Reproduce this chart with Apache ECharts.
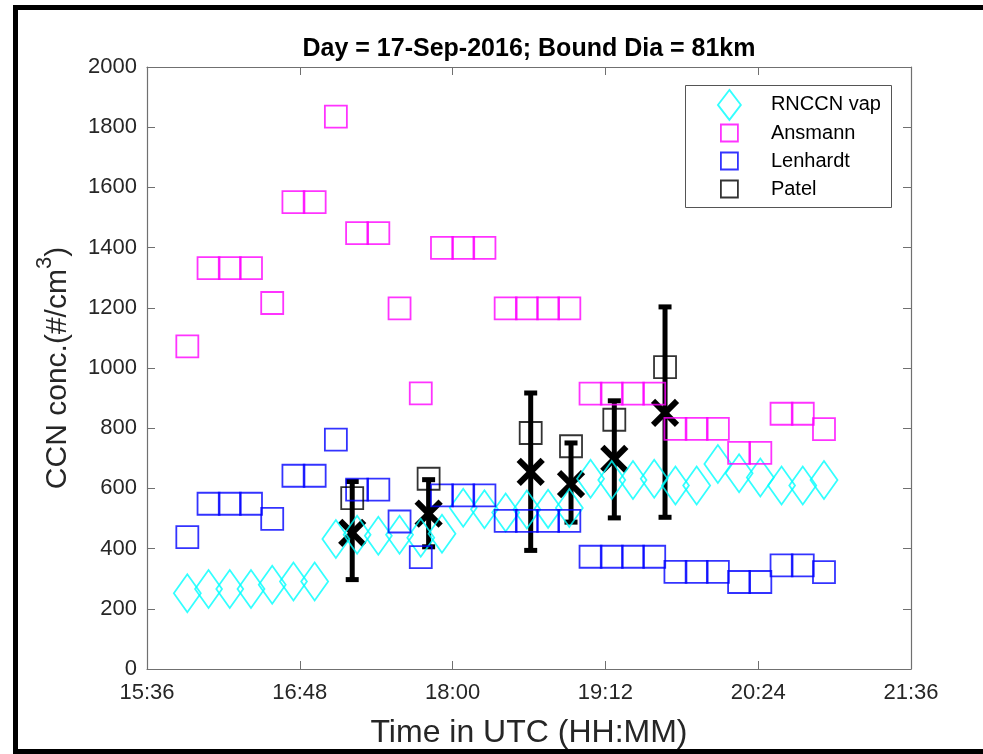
<!DOCTYPE html>
<html lang="en">
<head>
<meta charset="UTF-8">
<title>CCN conc. 17-Sep-2016</title>
<script src="https://cdn.jsdelivr.net/npm/echarts@6/dist/echarts.min.js"></script>
<style>
    html, body { margin: 0; padding: 0; background: #fff; }
    #main { width: 983px; height: 754px; }
</style>
</head>
<body>
<div id="main"></div>
<script>
    var FONT = '"Liberation Sans", Arial, Helvetica, sans-serif';

    // time in minutes after 00:00 UTC
    var times = [955, 965, 975, 985, 995, 1005, 1015, 1025, 1035, 1045, 1055,
        1065, 1075, 1085, 1095, 1105, 1115, 1125, 1135, 1145, 1155,
        1165, 1175, 1185, 1195, 1205, 1215, 1225, 1235, 1245, 1255];
    var rnccn = [252, 266, 266, 266, 280, 291, 291, 432, 446, 443, 446,
        436, 449, 536, 531, 520, 530, 532, 535, 632, 628,
        628, 632, 610, 610, 681, 650, 636, 610, 610, 628];
    var ansmann = [1072, 1332, 1332, 1332, 1216, 1551, 1551, 1835, 1448, 1448, 1198,
        916, 1399, 1399, 1399, 1198, 1198, 1198, 1198, 915, 915,
        915, 915, 798, 798, 798, 718, 718, 848, 848, 797];
    var lenhardt = [438, 549, 549, 549, 499, 642, 642, 762, 596, 596, 490,
        372, 577, 577, 577, 492, 492, 492, 492, 373, 373,
        373, 373, 323, 323, 323, 289, 289, 344, 344, 322];

    // Patel points + mean / error range
    var patelTimes = [1032.7, 1068.7, 1116.8, 1135.8, 1156.2, 1180.1];
    var patel = [568, 632, 784, 740, 828, 1003];
    var errMean = [452, 516, 655, 614, 698, 851];
    var errLow = [297, 406, 394, 488, 502, 504];
    var errHigh = [623, 629, 917, 751, 891, 1203];

    var xTickMin = 936, xTickMax = 1296, xTickStep = 72;   // 15:36 .. 21:36

    function hhmm(v) {
        var h = Math.floor(v / 60), m = Math.round(v % 60);
        return h + ':' + (m < 10 ? '0' : '') + m;
    }
    function pairs(xs, ys) {
        return xs.map(function (x, i) { return [x, ys[i]]; });
    }

    var axisCol = '#707070';
    var txtCol = '#262626';

    function hollow(col, w) {
        return { color: 'transparent', borderColor: col, borderWidth: w };
    }

    var myChart = echarts.init(document.getElementById('main'));

    var errData = patelTimes.map(function (t, i) {
        return [t, errMean[i], errLow[i], errHigh[i]];
    });

    var option = {
        animation: false,
        backgroundColor: '#fff',
        title: {
            text: 'Day = 17-Sep-2016; Bound Dia = 81km',
            left: 529,
            top: 37,
            padding: 0,
            textAlign: 'center',
            textStyle: { fontFamily: FONT, fontSize: 25, fontWeight: 'bold', color: '#000' }
        },
        grid: { left: 147, right: 72, top: 67, bottom: 85 },
        legend: [{
            data: [{ name: 'RNCCN vap', icon: 'diamond', itemStyle: hollow('#00ffff', 1.8) }],
            orient: 'vertical',
            left: 717,
            top: 89,
            padding: 0,
            itemWidth: 23,
            itemHeight: 30,
            selectedMode: false,
            textStyle: { fontFamily: FONT, fontSize: 20, color: '#000', padding: [0, 0, 0, 25] }
        }, {
            data: [
                { name: 'Ansmann', icon: 'rect', itemStyle: hollow('#ff00ff', 1.8) },
                { name: 'Lenhardt', icon: 'rect', itemStyle: hollow('#0000ff', 1.8) },
                { name: 'Patel', icon: 'rect', itemStyle: hollow('#000000', 1.8) }
            ],
            orient: 'vertical',
            left: 720,
            top: 123,
            padding: 0,
            itemWidth: 17,
            itemHeight: 17,
            itemGap: 8,
            selectedMode: false,
            textStyle: { fontFamily: FONT, fontSize: 20, color: '#000', padding: [0, 0, 0, 28] }
        }],
        graphic: [
            // outer black frame
            { type: 'rect', silent: true, shape: { x: 15.5, y: 7.5, width: 1000, height: 744 },
              style: { fill: 'none', stroke: '#000', lineWidth: 5 } },
            // legend box
            { type: 'rect', silent: true, z: 3, shape: { x: 685.5, y: 85.5, width: 206, height: 122 },
              style: { fill: '#fff', stroke: '#555', lineWidth: 1 } }
        ],
        xAxis: [{
            type: 'value',
            position: 'bottom',
            min: xTickMin, max: xTickMax, interval: xTickStep,
            axisLine: { onZero: false, lineStyle: { color: axisCol, width: 1.2 } },
            axisTick: { inside: true, length: 8, lineStyle: { color: axisCol } },
            splitLine: { show: false },
            axisLabel: { formatter: hhmm, fontFamily: FONT, fontSize: 22, color: txtCol, margin: 13 },
            name: 'Time in UTC (HH:MM)',
            nameLocation: 'middle',
            nameGap: 48,
            nameTextStyle: { fontFamily: FONT, fontSize: 32, color: txtCol }
        }, {
            type: 'value',
            position: 'top',
            min: xTickMin, max: xTickMax, interval: xTickStep,
            axisLine: { onZero: false, lineStyle: { color: axisCol, width: 1.2 } },
            axisTick: { inside: true, length: 8, lineStyle: { color: axisCol } },
            splitLine: { show: false },
            axisLabel: { show: false }
        }],
        yAxis: [{
            type: 'value',
            position: 'left',
            min: 0, max: 2000, interval: 200,
            axisLine: { show: true, onZero: false, lineStyle: { color: axisCol, width: 1.2 } },
            axisTick: { show: true, inside: true, length: 8, lineStyle: { color: axisCol } },
            splitLine: { show: false },
            axisLabel: {
                formatter: function (v) { return String(v); },
                fontFamily: FONT, fontSize: 22, color: txtCol, margin: 10
            },
            name: '{b|CCN conc.(#/cm}{s|3}{b|)}',
            nameLocation: 'middle',
            nameGap: 74,
            nameTextStyle: {
                fontFamily: FONT, fontSize: 30, color: txtCol,
                rich: {
                    b: { fontFamily: FONT, fontSize: 30, lineHeight: 30, color: txtCol, verticalAlign: 'bottom' },
                    s: { fontFamily: FONT, fontSize: 22, lineHeight: 22, color: txtCol, verticalAlign: 'bottom', padding: [0, 0, 17, 0] }
                }
            }
        }, {
            type: 'value',
            position: 'right',
            min: 0, max: 2000, interval: 200,
            axisLine: { show: true, onZero: false, lineStyle: { color: axisCol, width: 1.2 } },
            axisTick: { show: true, inside: true, length: 8, lineStyle: { color: axisCol } },
            splitLine: { show: false },
            axisLabel: { show: false }
        }],
        series: [{
            name: 'RNCCN vap',
            type: 'scatter',
            symbol: 'diamond',
            symbolSize: [27, 38],
            itemStyle: hollow('#00ffff', 1.8),
            data: pairs(times, rnccn)
        }, {
            name: 'Ansmann',
            type: 'scatter',
            symbol: 'rect',
            symbolSize: 22,
            itemStyle: hollow('#ff00ff', 1.8),
            data: pairs(times, ansmann)
        }, {
            name: 'Lenhardt',
            type: 'scatter',
            symbol: 'rect',
            symbolSize: 22,
            itemStyle: hollow('#0000ff', 1.8),
            data: pairs(times, lenhardt)
        }, {
            name: 'Patel',
            type: 'scatter',
            symbol: 'rect',
            symbolSize: 22,
            itemStyle: hollow('#000000', 1.8),
            data: pairs(patelTimes, patel)
        }, {
            // error bars with an x at the mean
            type: 'custom',
            encode: { x: 0, y: [1, 2, 3] },
            data: errData,
            renderItem: function (params, api) {
                var t = api.value(0);
                var c = api.coord([t, api.value(1)]);
                var lo = api.coord([t, api.value(2)]);
                var hi = api.coord([t, api.value(3)]);
                var bar = { stroke: '#000', lineWidth: 5 };
                var cross = { stroke: '#000', lineWidth: 6 };
                var cap = 6.5, s = 12;
                return {
                    type: 'group',
                    children: [
                        { type: 'line', shape: { x1: c[0], y1: lo[1], x2: c[0], y2: hi[1] }, style: bar },
                        { type: 'line', shape: { x1: c[0] - cap, y1: lo[1], x2: c[0] + cap, y2: lo[1] }, style: bar },
                        { type: 'line', shape: { x1: c[0] - cap, y1: hi[1], x2: c[0] + cap, y2: hi[1] }, style: bar },
                        { type: 'line', shape: { x1: c[0] - s, y1: c[1] - s, x2: c[0] + s, y2: c[1] + s }, style: cross },
                        { type: 'line', shape: { x1: c[0] - s, y1: c[1] + s, x2: c[0] + s, y2: c[1] - s }, style: cross }
                    ]
                };
            }
        }]
    };

    myChart.setOption(option);
</script>
</body>
</html>
